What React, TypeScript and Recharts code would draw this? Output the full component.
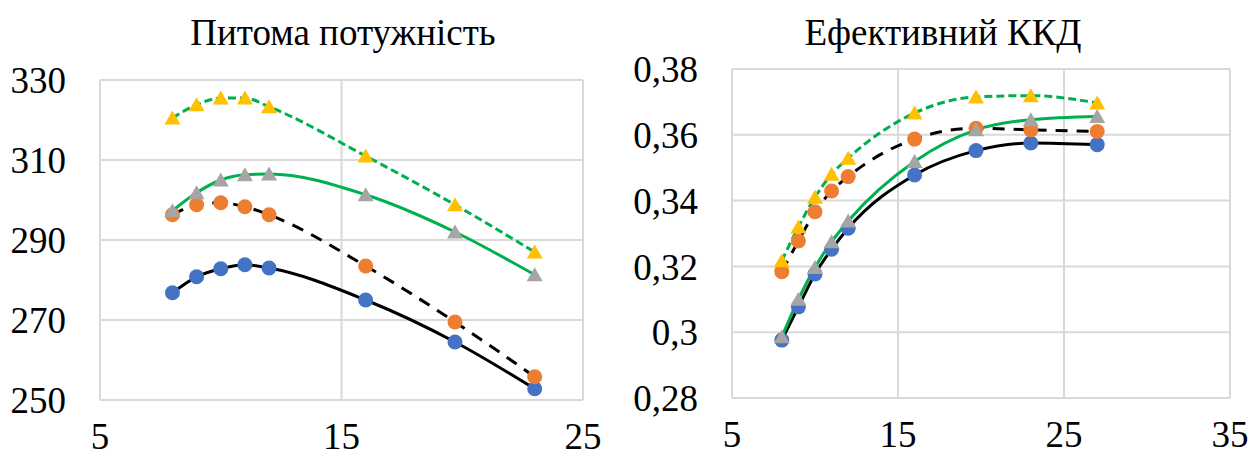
import { ComposedChart, Line, XAxis, YAxis, CartesianGrid } from 'recharts';

const FONT = '"Liberation Serif", "Times New Roman", serif';

// x values shared by both charts (power chart stops at 23)
const xValues = [8, 9, 10, 11, 12, 16, 19.7, 23, 27];

const powerBlue = [276.8, 280.8, 282.8, 283.8, 283, 275, 264.5, 252.8];
const powerOrange = [296.3, 298.8, 299.3, 298.3, 296.3, 283.5, 269.5, 255.8];
const powerGray = [297.3, 301.8, 305, 306.3, 306.5, 301.3, 292, 281.3];
const powerYellow = [320.5, 323.8, 325.5, 325.5, 323.3, 311, 298.8, 287];

const effBlue = [0.2976, 0.3077, 0.3177, 0.3252, 0.3316, 0.3478, 0.3552, 0.3575, 0.357];
const effOrange = [0.3184, 0.3277, 0.3366, 0.3429, 0.3473, 0.3587, 0.362, 0.3615, 0.361];
const effGray = [0.2986, 0.31, 0.3197, 0.3275, 0.3338, 0.3519, 0.3615, 0.3646, 0.3656];
const effYellow = [0.3217, 0.332, 0.341, 0.348, 0.3529, 0.3666, 0.3715, 0.3719, 0.3697];

const powerXTicks = [5, 15, 25];
const powerYTicks = [250, 270, 290, 310, 330];
const effXTicks = [5, 15, 25, 35];
const effYTicks = [0.28, 0.3, 0.32, 0.34, 0.36, 0.38];

const BLUE = '#4472C4';
const ORANGE = '#ED7D31';
const GRAY = '#A5A5A5';
const YELLOW = '#FFC000';
const GREEN = '#00B050';
const GRID = '#D9D9D9';

const powerData = powerBlue.map((_, i) => ({
  x: xValues[i],
  blue: powerBlue[i],
  orange: powerOrange[i],
  gray: powerGray[i],
  yellow: powerYellow[i],
}));

const effData = effBlue.map((_, i) => ({
  x: xValues[i],
  blue: effBlue[i],
  orange: effOrange[i],
  gray: effGray[i],
  yellow: effYellow[i],
}));

const circleDot = (color: string) => (props: any) => (
  <circle key={`c-${color}-${props.index}`} cx={props.cx} cy={props.cy} r={7.5} fill={color} />
);

const triangleDot = (color: string) => (props: any) => {
  const { cx, cy } = props;
  return (
    <path
      key={`t-${color}-${props.index}`}
      d={`M${cx},${cy - 7.5} L${cx + 8},${cy + 6.5} L${cx - 8},${cy + 6.5} Z`}
      fill={color}
    />
  );
};

const tickStyle = { fill: '#000', fontSize: 37, fontFamily: FONT };

const commaFmt = (v: number) => String(Number(v.toFixed(2))).replace('.', ',');

// trendlines first, markers on top
function Series() {
  return [
    <Line key="l1" dataKey="blue" type="monotone" stroke="#000" strokeWidth={3} dot={false} activeDot={false} isAnimationActive={false} />,
    <Line key="l2" dataKey="orange" type="monotone" stroke="#000" strokeWidth={3} strokeDasharray="12 9" dot={false} activeDot={false} isAnimationActive={false} />,
    <Line key="l3" dataKey="gray" type="monotone" stroke={GREEN} strokeWidth={3} dot={false} activeDot={false} isAnimationActive={false} />,
    <Line key="l4" dataKey="yellow" type="monotone" stroke={GREEN} strokeWidth={3} strokeDasharray="8 4" dot={false} activeDot={false} isAnimationActive={false} />,
    <Line key="m1" dataKey="blue" stroke="none" dot={circleDot(BLUE)} activeDot={false} isAnimationActive={false} />,
    <Line key="m2" dataKey="orange" stroke="none" dot={circleDot(ORANGE)} activeDot={false} isAnimationActive={false} />,
    <Line key="m3" dataKey="gray" stroke="none" dot={triangleDot(GRAY)} activeDot={false} isAnimationActive={false} />,
    <Line key="m4" dataKey="yellow" stroke="none" dot={triangleDot(YELLOW)} activeDot={false} isAnimationActive={false} />,
  ];
}

const titleStyle = (centerX: number): React.CSSProperties => ({
  position: 'absolute',
  top: 14,
  left: centerX - 250,
  width: 500,
  textAlign: 'center',
  fontFamily: FONT,
  fontSize: 37,
  lineHeight: '37px',
  color: '#000',
});

export default function App() {
  return (
    <div style={{ position: 'fixed', left: 0, top: 0, width: 1252, height: 459, background: '#fff' }}>
      <div style={titleStyle(343)}>Питома потужність</div>
      <div style={titleStyle(943)}>Ефективний ККД</div>

      <div style={{ position: 'absolute', left: 0, top: 0 }}>
        <ComposedChart width={626} height={459} data={powerData} margin={{ top: 80, right: 43, bottom: 9, left: 20 }}>
          <CartesianGrid stroke={GRID} strokeWidth={2} />
          <XAxis
            dataKey="x"
            type="number"
            domain={[5, 25]}
            ticks={powerXTicks}
            allowDataOverflow
            height={50}
            tickLine={false}
            axisLine={{ stroke: GRID, strokeWidth: 2 }}
            tick={tickStyle}
            tickMargin={17}
          />
          <YAxis
            type="number"
            domain={[250, 330]}
            ticks={powerYTicks}
            width={80}
            tickLine={false}
            axisLine={{ stroke: GRID, strokeWidth: 2 }}
            tick={tickStyle}
            tickMargin={28}
          />
          {Series()}
        </ComposedChart>
      </div>

      <div style={{ position: 'absolute', left: 626, top: 0 }}>
        <ComposedChart width={626} height={459} data={effData} margin={{ top: 69, right: 22, bottom: 11, left: 26 }}>
          <CartesianGrid stroke={GRID} strokeWidth={2} />
          <XAxis
            dataKey="x"
            type="number"
            domain={[5, 35]}
            ticks={effXTicks}
            height={50}
            tickLine={false}
            axisLine={{ stroke: GRID, strokeWidth: 2 }}
            tick={tickStyle}
            tickMargin={17}
          />
          <YAxis
            type="number"
            domain={[0.28, 0.38]}
            ticks={effYTicks}
            width={80}
            tickLine={false}
            axisLine={{ stroke: GRID, strokeWidth: 2 }}
            tick={tickStyle}
            tickFormatter={commaFmt}
            tickMargin={28}
          />
          {Series()}
        </ComposedChart>
      </div>
    </div>
  );
}
